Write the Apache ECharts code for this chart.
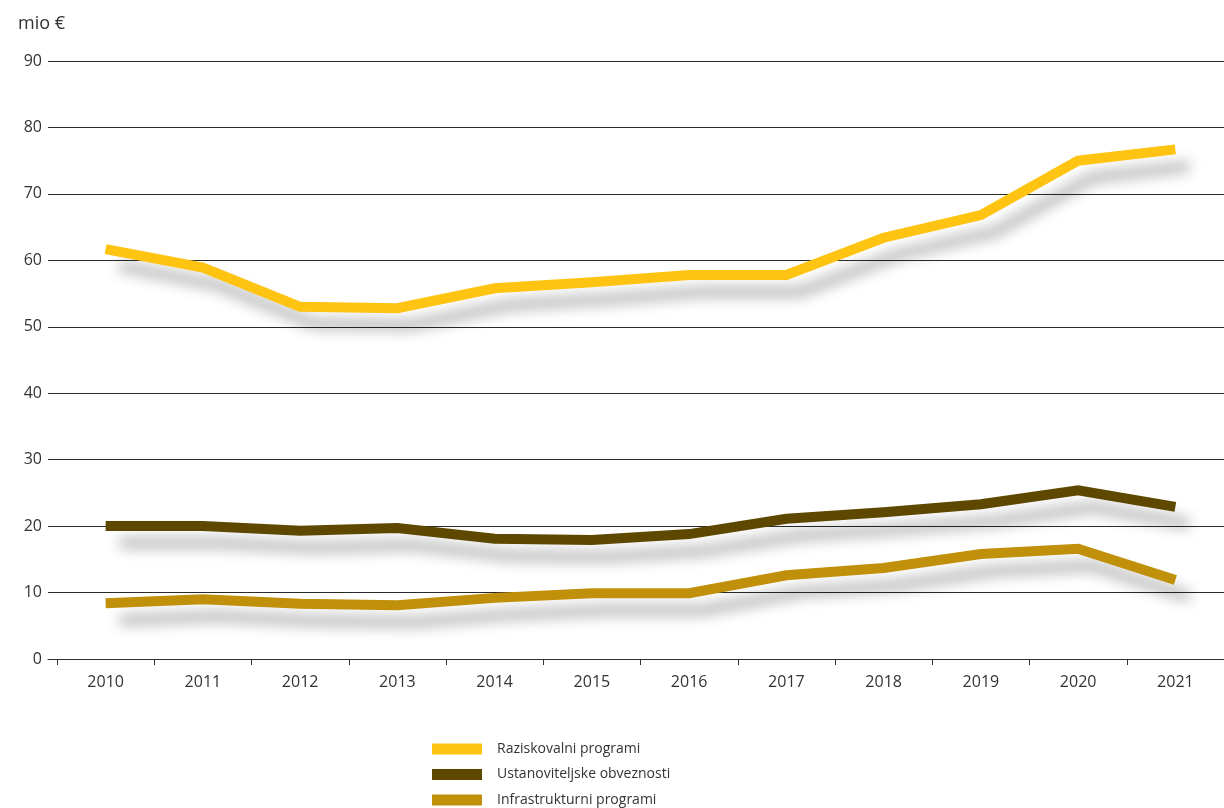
<!DOCTYPE html>
<html>
<head>
<meta charset="utf-8">
<script src="https://cdn.jsdelivr.net/npm/echarts@6/dist/echarts.min.js"></script>
<style>
  html, body { margin: 0; padding: 0; background: #fff; }
  #chart { width: 1224px; height: 808px; }
</style>
</head>
<body>
<div id="chart"></div>
<script>
// Annual funding, million euro
const years = [2010, 2011, 2012, 2013, 2014, 2015, 2016, 2017, 2018, 2019, 2020, 2021];
const raziskovalni = [61.7, 58.9, 53.0, 52.8, 55.8, 56.7, 57.8, 57.8, 63.4, 66.8, 75.0, 76.7];
const ustanoviteljske = [20.0, 20.0, 19.3, 19.7, 18.1, 17.9, 18.8, 21.1, 22.1, 23.3, 25.4, 22.9];
const infrastrukturni = [8.4, 9.0, 8.3, 8.1, 9.2, 9.9, 9.9, 12.6, 13.7, 15.8, 16.6, 11.9];
const seriesNames = ['Raziskovalni programi', 'Ustanoviteljske obveznosti', 'Infrastrukturni programi'];
const seriesColors = ['#FFC312', '#5E4800', '#C0900A'];
const yTicks = [0, 10, 20, 30, 40, 50, 60, 70, 80, 90];

const FONT = '"Open Sans", sans-serif';
const pairs = vals => years.map((y, i) => [y, vals[i]]);
const tickBounds = years.map(y => y - 0.5).concat([years[years.length - 1] + 0.5]);

const makeSeries = (name, vals, color) => ({
  name: name,
  type: 'line',
  data: pairs(vals),
  showSymbol: false,
  symbol: 'none',
  color: color,
  lineStyle: {
    width: 10,
    color: color,
    cap: 'butt',
    join: 'miter',
    shadowColor: 'rgba(0,0,0,0.3)',
    shadowBlur: 14,
    shadowOffsetX: 14,
    shadowOffsetY: 17
  },
  emphasis: { disabled: true }
});

const chart = echarts.init(document.getElementById('chart'), null, { renderer: 'canvas' });
chart.setOption({
  animation: false,
  backgroundColor: '#ffffff',
  textStyle: { fontFamily: FONT },
  title: {
    text: 'mio €',
    left: 13,
    top: 10,
    textStyle: { fontFamily: FONT, fontSize: 18, fontWeight: 'normal', color: '#333' }
  },
  grid: { left: 48, right: 0, top: 61, bottom: 149, containLabel: false },
  legend: {
    orient: 'vertical',
    left: 432,
    top: 742,
    height: 80,
    padding: 0,
    icon: 'rect',
    itemWidth: 50,
    itemHeight: 11,
    itemGap: 11.5,
    data: seriesNames,
    textStyle: { fontFamily: FONT, fontSize: 14, lineHeight: 14, color: '#333', padding: [0, 0, 0, 10] }
  },
  xAxis: {
    type: 'value',
    min: years[0] - 0.5 - 9 / 97.25,
    max: years[years.length - 1] + 0.5,
    splitLine: { show: false },
    axisLine: { show: true, lineStyle: { color: '#333', width: 1 } },
    axisTick: {
      show: true,
      length: 6,
      customValues: tickBounds,
      lineStyle: { color: '#333', width: 1 }
    },
    axisLabel: {
      customValues: years,
      formatter: v => String(Math.round(v)),
      margin: 15,
      fontFamily: FONT,
      fontSize: 16,
      color: '#333'
    }
  },
  yAxis: {
    type: 'value',
    min: yTicks[0],
    max: yTicks[yTicks.length - 1],
    interval: 10,
    axisLine: { show: false },
    axisTick: { show: false },
    splitLine: { show: true, lineStyle: { color: '#2a2a2a', width: 1 } },
    axisLabel: { margin: 6, fontFamily: FONT, fontSize: 16, color: '#333' }
  },
  series: [
    makeSeries(seriesNames[0], raziskovalni, seriesColors[0]),
    makeSeries(seriesNames[1], ustanoviteljske, seriesColors[1]),
    makeSeries(seriesNames[2], infrastrukturni, seriesColors[2])
  ]
});
</script>
</body>
</html>
